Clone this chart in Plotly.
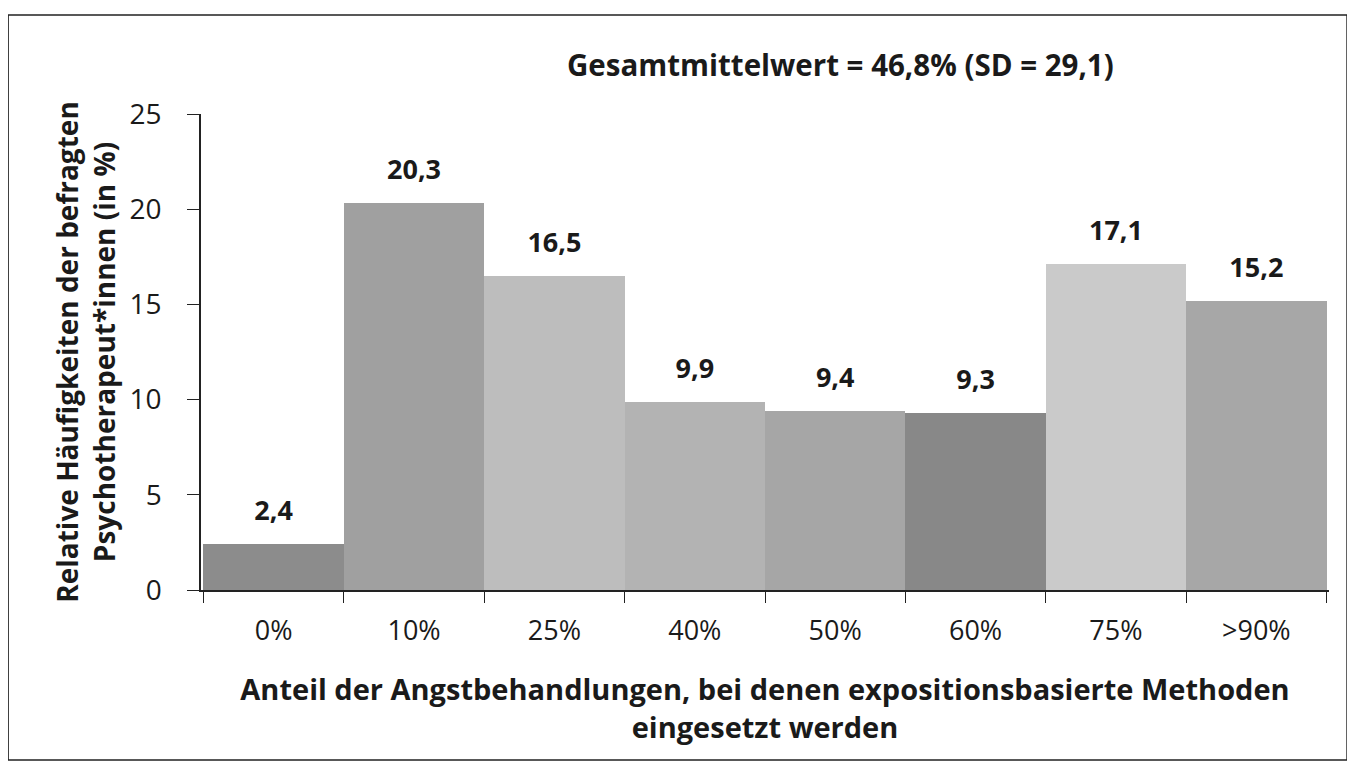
import plotly.graph_objects as go

categories = ["0%", "10%", "25%", "40%", "50%", "60%", "75%", ">90%"]
values = [2.4, 20.3, 16.5, 9.9, 9.4, 9.3, 17.1, 15.2]
labels = ["2,4", "20,3", "16,5", "9,9", "9,4", "9,3", "17,1", "15,2"]
colors = ["#8c8c8c", "#a0a0a0", "#bdbdbd", "#b3b3b3", "#a6a6a6", "#888888", "#cacaca", "#a7a7a7"]
y_ticks = [0, 5, 10, 15, 20, 25]

FONT = "Open Sans"
INK = "#1a1a1a"

fig = go.Figure()
fig.add_trace(go.Bar(
    x=categories, y=values,
    marker=dict(color=colors, line=dict(width=0)),
    width=1.0, hoverinfo="x+y",
))
# value labels, lifted above bar tops by an invisible marker
fig.add_trace(go.Scatter(
    x=categories, y=values, text=labels, mode="markers+text", textposition="top center",
    marker=dict(size=26, opacity=0), cliponaxis=False, hoverinfo="skip",
    textfont=dict(family=FONT, size=27, color=INK, weight="bold"),
))

fig.update_layout(
    width=1347, height=764,
    margin=dict(l=193, r=26, t=106, b=182),
    paper_bgcolor="white", plot_bgcolor="white",
    showlegend=False,
    font=dict(family=FONT, color=INK),
    bargap=0,
    annotations=[
        dict(text="<b>Gesamtmittelwert = 46,8% (SD = 29,1)</b>", xref="paper", yref="paper",
             x=0.5665, y=1.103, xanchor="center", yanchor="middle", showarrow=False,
             font=dict(family=FONT, size=29.5, color=INK)),
    ],
    shapes=[
        dict(type="rect", xref="paper", yref="paper", x0=-0.171, x1=1.016, y0=-0.357, y1=1.208,
             line=dict(color="#222222", width=1.5), fillcolor="rgba(0,0,0,0)", layer="below"),
    ],
)

fig.update_xaxes(
    type="category", tickson="boundaries", ticks="outside", ticklen=11, tickcolor="#222",
    showline=True, linecolor="#222", linewidth=1.5, showgrid=False,
    tickfont=dict(family=FONT, size=27, color=INK), ticklabelstandoff=16,
    title=dict(text="<b>Anteil der Angstbehandlungen, bei denen expositionsbasierte Methoden<br>eingesetzt werden</b>",
               font=dict(family=FONT, size=29, color=INK), standoff=33),
)
fig.update_yaxes(
    range=[0, 25], tickvals=y_ticks, ticks="outside", ticklen=12, tickcolor="#222",
    showline=True, linecolor="#222", linewidth=1.5, showgrid=False, zeroline=False,
    tickfont=dict(family=FONT, size=28, color=INK), ticklabelstandoff=20,
    title=dict(text="<b>Relative Häufigkeiten der befragten<br>Psychotherapeut*innen (in %)</b>",
               font=dict(family=FONT, size=28, color=INK), standoff=6),
)

fig.write_html("out.html")
